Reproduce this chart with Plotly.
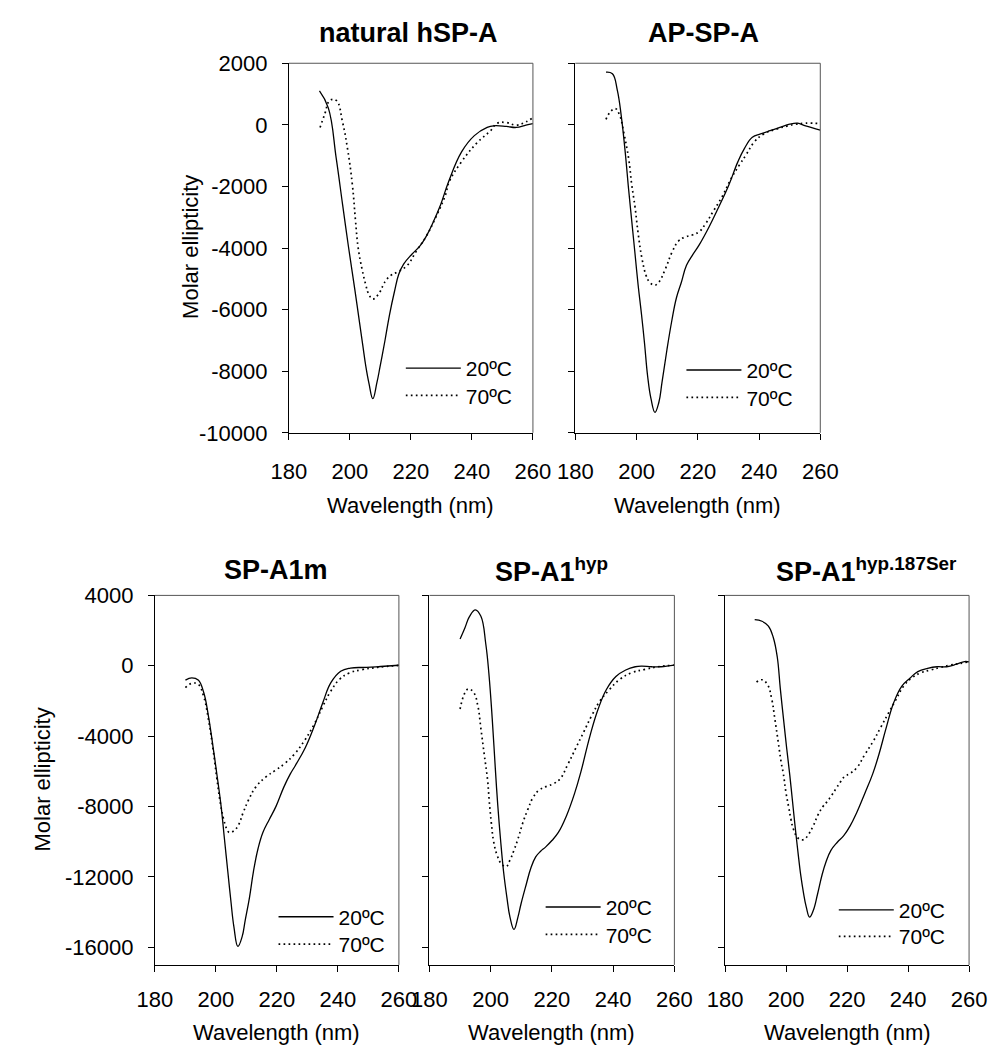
import plotly.graph_objects as go

# ---- CD spectra: wavelength (nm) and molar ellipticity readings ----
# natural hSP-A
nat_wl_20 = [190, 192.9, 195.5, 197.6, 199.5, 201.6, 202.9, 204.2, 205.2, 206.25, 207.5, 208.85,
             209.9, 211.5, 213, 214.6, 216, 217.6, 220.3, 222.9, 225, 227.1, 229.7, 232.4,
             236.6, 240.8, 245, 247.1, 251.3, 254.5, 257.7, 260]
nat_me_20 = [1100, 550, -1090, -2600, -3950, -5350, -6250, -7150, -7838, -8400, -8892, -8365,
             -7838, -6994, -6150, -5411, -4850, -4520, -4200, -3940, -3620, -3200, -2600, -1830,
             -878, -350, -85, -30, -50, -85, -10, 40]
nat_wl_70 = [190.2, 191.8, 193.4, 195.5, 197.6, 199.2, 200.8, 201.8, 202.7, 204, 205.2, 206,
             207.5, 209.9, 210.9, 211.8, 213.5, 215.5, 218.7, 221.8, 225, 228.2, 231.4, 232.4,
             236.6, 241.9, 246.1, 248.2, 251.3, 254.5, 257.7, 260]
nat_me_70 = [-85, 370, 794, 794, 75, -772, -1950, -3090, -4000, -4700, -5200, -5460,
             -5660, -5411, -5200, -5050, -4880, -4780, -4570, -4095, -3620, -2990, -2250, -1880,
             -1196, -560, -190, 50, 74, -10, 95, 233]

# AP-SP-A
ap_wl_20 = [190, 192.1, 193.7, 195, 196.3, 197.4, 198.4, 199.5, 200.5, 201.6, 202.6, 203.6,
            204.7, 206, 207.3, 208.3, 209.9, 211.5, 213, 214.6, 216.3, 218.4, 220.5, 223.7,
            226.8, 230, 233.1, 235.2, 237.8, 240.5, 243.6, 246.8, 250, 252.6, 255.2, 260]
ap_me_20 = [1711, 1659, 1130, 285, -900, -2100, -3100, -4200, -5200, -6150, -7100, -8154,
            -8892, -9335, -8998, -8365, -7310, -6361, -5622, -5120, -4560, -4205, -3888, -3307,
            -2673, -1986, -1194, -771, -401, -296, -190, -85, 21, 53, -32, -169]
ap_wl_70 = [190, 191.6, 193.1, 194.5, 195.8, 197.4, 198.4, 199.5, 200.5, 201.8, 203.1, 204.2,
            205.8, 207.3, 209.4, 211.5, 213.6, 215.7, 218.4, 220.5, 222.6, 225.2, 227.8, 231,
            233.6, 235.7, 238.4, 241.5, 245.7, 249.4, 252, 255.2, 260]
ap_me_70 = [180, 444, 528, 306, -243, -1088, -1933, -2673, -3518, -4363, -4891, -5102,
            -5208, -5102, -4680, -4152, -3782, -3645, -3571, -3465, -3201, -2779, -2356, -1722,
            -1300, -983, -560, -296, -137, -32, 21, 53, 42]

# SP-A1m
a1m_wl_20 = [190, 192.1, 194.2, 196, 197.5, 199.1, 200.3, 201.7, 202.8, 203.9, 204.9, 205.9,
             207.2, 208.6, 209.6, 211, 212.3, 213.8, 215.4, 217.5, 219.7, 222.3, 224.4, 226.1,
             229.3, 232.4, 235.1, 237.7, 240.9, 244.1, 249.4, 254, 260]
a1m_me_20 = [-813, -684, -813, -1520, -2813, -4660, -6150, -7989, -9842, -11690, -13354, -14835,
             -15945, -15390, -14464, -13170, -11690, -10397, -9471, -8732, -7989, -6880, -6142, -5650,
             -4658, -3364, -2070, -961, -314, -129, -92, -40, 30]
a1m_wl_70 = [190, 192.1, 194.2, 196, 197.5, 199.1, 200.3, 201.5, 202.5, 203.5, 204.4, 205.9,
             207.5, 208.9, 210.7, 213.1, 216.5, 219.4, 222.6, 225.7, 228.9, 232.1, 235.2, 237.4,
             240.5, 243.7, 247.9, 253, 260]
a1m_me_70 = [-1238, -998, -1053, -1750, -3000, -4800, -6400, -7850, -8700, -9250, -9471, -9380,
             -9010, -8361, -7623, -6880, -6300, -5950, -5550, -5028, -4288, -3364, -2255, -1516,
             -776, -407, -222, -90, 20]

# SP-A1 hyp
hyp_wl_20 = [190, 191.6, 193.1, 195, 196.8, 198.4, 199.4, 200.5, 201.5, 202.3, 203.2, 204.2,
             205.3, 206.3, 207.6, 208.9, 209.9, 211.6, 213.1, 214.7, 216.3, 217.9, 220, 222.1,
             224.7, 227.4, 229.5, 232.5, 235.1, 237.8, 240.9, 244.1, 247.2, 249.3, 252.5, 255.6, 260]
hyp_me_20 = [1516, 2163, 2810, 3179, 2810, 1238, -425, -3000, -5800, -7900, -9842, -11690,
             -13170, -14280, -14979, -14280, -13537, -12428, -11506, -10857, -10541, -10303, -9931, -9471,
             -8546, -7251, -6000, -3937, -2458, -1349, -610, -240, -55, -18, -55, -55, 37]
hyp_wl_70 = [190, 191.6, 192.8, 194.5, 195.8, 196.8, 197.9, 199, 199.5, 200.2, 201, 202.1,
             203.4, 205, 206.3, 207.6, 208.9, 210.5, 212.1, 213.7, 215.8, 218.4, 220.6, 222.7,
             225.2, 227.8, 230.4, 233, 235.7, 238.8, 242, 246.2, 250.4, 254.6, 260]
hyp_me_70 = [-2458, -1534, -1312, -1534, -2274, -3567, -5046, -6513, -7622, -8915, -10025, -10764,
             -11230, -11413, -11040, -10485, -9842, -8915, -8176, -7527, -7065, -6845, -6695, -6420,
             -5601, -4677, -3752, -2828, -1996, -1349, -795, -388, -203, -55, 37]

# SP-A1 hyp.187Ser
ser_wl_20 = [189.7, 192.1, 194.2, 195.8, 197.1, 198.1, 199.2, 200.2, 201.2, 202.1, 203, 203.9,
             204.8, 205.7, 206.6, 207.7, 208.9, 210.3, 211.8, 213.1, 214.7, 216.8, 218.9, 221,
             223.1, 225.8, 228.4, 230.5, 232.7, 235.3, 237.9, 240.6, 243.2, 246.4, 249.5, 252.7,
             255.9, 258.5, 260]
ser_me_20 = [2625, 2532, 2255, 1608, 499, -1300, -3100, -4700, -6200, -7700, -9200, -10600,
             -11900, -12900, -13700, -14280, -13908, -12983, -11872, -11135, -10485, -10025, -9653, -9098,
             -8360, -7251, -6142, -5000, -3600, -2089, -1165, -702, -333, -148, -55, -55,
             92, 240, 222]
ser_wl_70 = [190.3, 192.1, 193.9, 195.3, 196.3, 197.4, 198.4, 199.1, 200, 200.8, 201.6, 202.4,
             204, 205.8, 207.4, 208.9, 210.5, 212.1, 213.5, 215, 216.4, 217.8, 219.2, 220.6,
             223.2, 225.8, 228.5, 231.1, 233.7, 235.8, 238.5, 241.1, 244.3, 247.4, 250.6, 253.8,
             256.9, 260]
ser_me_70 = [-924, -795, -1072, -1904, -3013, -4307, -5500, -6142, -7251, -7989, -8731, -9286,
             -9802, -9875, -9564, -9098, -8454, -7989, -7711, -7343, -6973, -6602, -6290, -6155,
             -5786, -5046, -4307, -3475, -2643, -1996, -1165, -702, -388, -240, -92, 37,
             129, 222]

temp_labels = ["20ºC", "70ºC"]
x_ticks = [180, 200, 220, 240, 260]
x_tick_text = ["180", "200", "220", "240", "260"]
top_y_ticks = [2000, 0, -2000, -4000, -6000, -8000, -10000]
top_y_text = ["2000", "0", "-2000", "-4000", "-6000", "-8000", "-10000"]
bot_y_ticks = [4000, 0, -4000, -8000, -12000, -16000]
bot_y_text = ["4000", "0", "-4000", "-8000", "-12000", "-16000"]

W, H = 1008, 1059
FONT = "Liberation Sans, Arial, sans-serif"


def px(x):
    return x / W


def py(y):
    return 1 - y / H


# panel geometry in pixels: (left, right, top, bottom); legend rows (x, y20, y70)
panels = [
    dict(title="natural hSP-A", tx=405, ty=22, box=(281, 534, 52.5, 431), row=0,
         labels=True, data=[(nat_wl_20, nat_me_20), (nat_wl_70, nat_me_70)],
         leg=(397, 365, 393)),
    dict(title="AP-SP-A", tx=711, ty=22, box=(578, 832, 52.5, 431), row=0,
         labels=False, data=[(ap_wl_20, ap_me_20), (ap_wl_70, ap_me_70)],
         leg=(688, 367, 395)),
    dict(title="SP-A1m", tx=268, ty=572, box=(142, 395, 597.5, 976), row=1,
         labels=True, data=[(a1m_wl_20, a1m_me_20), (a1m_wl_70, a1m_me_70)],
         leg=(265, 927, 955)),
    dict(title="SP-A1<sup>hyp</sup>", tx=553, ty=572, box=(426.7, 680.7, 597.5, 976), row=1,
         labels=False, data=[(hyp_wl_20, hyp_me_20), (hyp_wl_70, hyp_me_70)],
         leg=(542, 917, 945)),
    dict(title="SP-A1<sup>hyp.187Ser</sup>", tx=880, ty=572, box=(733.3, 986.3, 597.5, 976), row=1,
         labels=False, data=[(ser_wl_20, ser_me_20), (ser_wl_70, ser_me_70)],
         leg=(846, 920, 947)),
]

y_setup = [
    dict(range=[-10000, 2000], vals=top_y_ticks, text=top_y_text),
    dict(range=[-17000, 4000], vals=bot_y_ticks, text=bot_y_text),
]

fig = go.Figure()
layout = dict(
    width=W, height=H, autosize=False,
    margin=dict(l=0, r=0, t=0, b=0),
    paper_bgcolor="white", plot_bgcolor="white",
    font=dict(family=FONT, color="black", size=22),
    annotations=[], shapes=[],
)

leg_count = 0
for i, p in enumerate(panels):
    n = "" if i == 0 else str(i + 1)
    xa, ya = "x" + n, "y" + n
    l, r, t, b = p["box"]
    ys = y_setup[p["row"]]

    for k, (wl, me) in enumerate(p["data"]):
        leg_count += 1
        legname = "legend" if leg_count == 1 else "legend" + str(leg_count)
        fig.add_trace(go.Scatter(
            x=wl, y=me, mode="lines", xaxis=xa, yaxis=ya,
            name=temp_labels[k], legend=legname, showlegend=True,
            line=dict(color="black", width=1.3 if k == 0 else 1.7,
                      dash="solid" if k == 0 else "1.7px,3.3px",
                      shape="spline", smoothing=1.2),
            hoverinfo="skip",
        ))
        # one legend per temperature so each row sits at its own height
        layout[legname] = dict(
            x=px(p["leg"][0]), y=py(p["leg"][1 + k]), xanchor="left", yanchor="middle",
            bgcolor="rgba(0,0,0,0)", borderwidth=0, itemwidth=55,
            font=dict(size=21, family=FONT),
            itemclick=False, itemdoubleclick=False,
        )

    layout["xaxis" + n] = dict(
        domain=[px(l), px(r)], anchor=ya, range=[180, 260],
        tickvals=x_ticks, ticktext=x_tick_text, ticks="outside", ticklen=6,
        tickwidth=1, tickcolor="black",
        showline=True, linecolor="black", linewidth=1, showgrid=False, zeroline=False,
        tickfont=dict(size=22, family=FONT),
        ticklabelstandoff=13 if p["row"] == 0 else 9,
    )
    layout["yaxis" + n] = dict(
        domain=[py(b), py(t)], anchor=xa, range=ys["range"],
        tickvals=ys["vals"], ticktext=ys["text"], ticks="outside", ticklen=6,
        tickwidth=1, tickcolor="black",
        showline=True, linecolor="black", linewidth=1, showgrid=False, zeroline=False,
        showticklabels=p["labels"], tickfont=dict(size=22, family=FONT),
        ticklabelstandoff=10,
    )
    # top and right frame edges
    layout["shapes"].append(dict(type="line", xref=xa + " domain", yref=ya + " domain",
                                 x0=0, x1=1, y0=1, y1=1, line=dict(color="#555555", width=1)))
    layout["shapes"].append(dict(type="line", xref=xa + " domain", yref=ya + " domain",
                                 x0=1, x1=1, y0=0, y1=1, line=dict(color="#555555", width=1)))

    layout["annotations"].append(dict(
        text="<b>" + p["title"] + "</b>", x=px(p["tx"]), y=py(p["ty"]),
        xref="paper", yref="paper", xanchor="center", yanchor="middle",
        showarrow=False, font=dict(size=27, family=FONT)))
    layout["annotations"].append(dict(
        text="Wavelength (nm)", x=px((l + r) / 2), y=py(505 if p["row"] == 0 else 1045),
        xref="paper", yref="paper", xanchor="center", yanchor="middle",
        showarrow=False, font=dict(size=22, family=FONT)))

# y-axis titles
for yc, xc in [(241, 179), (786, 25)]:
    layout["annotations"].append(dict(
        text="Molar ellipticity", x=px(xc), y=py(yc), textangle=-90,
        xref="paper", yref="paper", xanchor="center", yanchor="middle",
        showarrow=False, font=dict(size=22, family=FONT)))

fig.update_layout(**layout)
# keep the page flush with the figure (no default body margin / scrollbars)
fig.write_html(
    "out.html",
    post_script="document.body.style.margin='0px';"
                "document.documentElement.style.overflow='hidden';"
                "document.body.style.overflow='hidden';",
)
